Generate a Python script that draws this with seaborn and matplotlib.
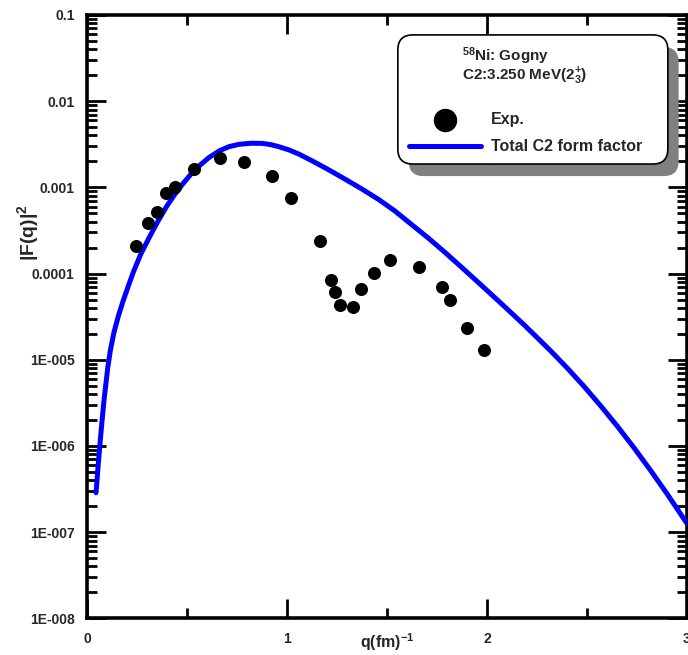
import numpy as np
import pandas as pd
import seaborn as sns
import matplotlib as mpl
import matplotlib.pyplot as plt
import matplotlib.ticker as ticker
from matplotlib.patches import FancyBboxPatch

# experimental |F(q)|^2
q_exp = [0.247, 0.305, 0.352, 0.393, 0.438, 0.534, 0.667, 0.783, 0.927, 1.018,
         1.164, 1.220, 1.242, 1.265, 1.332, 1.372, 1.433, 1.517, 1.662, 1.773,
         1.817, 1.902, 1.987]
f2_exp = [2.09e-4, 3.84e-4, 5.23e-4, 8.61e-4, 1.00e-3, 1.63e-3, 2.19e-3, 1.95e-3, 1.37e-3, 7.48e-4,
          2.37e-4, 8.37e-5, 6.19e-5, 4.28e-5, 4.06e-5, 6.58e-5, 1.01e-4, 1.44e-4, 1.20e-4, 7.0e-5,
          4.9e-5, 2.35e-5, 1.29e-5]

# total C2 form factor (Gogny)
q_th = [0.045, 0.055, 0.065, 0.075, 0.085, 0.104, 0.117, 0.134, 0.157, 0.182,
        0.207, 0.230, 0.269, 0.313, 0.355, 0.397, 0.440, 0.479, 0.520, 0.562,
        0.610, 0.662, 0.710, 0.760, 0.820, 0.876, 0.920, 0.960, 1.010, 1.060,
        1.124, 1.200, 1.292, 1.375, 1.458, 1.540, 1.622, 1.705, 1.790, 1.870,
        1.955, 2.070, 2.188, 2.318, 2.400, 2.486, 2.570, 2.652, 2.735, 2.816,
        2.900, 2.984, 3.000]
f2_th = [2.87e-7, 5.70e-7, 1.08e-6, 1.95e-6, 3.42e-6, 8.24e-6, 1.30e-5, 2.05e-5, 3.24e-5, 4.94e-5,
         7.24e-5, 1.02e-4, 1.69e-4, 2.68e-4, 4.07e-4, 5.97e-4, 8.39e-4, 1.10e-3, 1.43e-3, 1.79e-3,
         2.22e-3, 2.66e-3, 2.97e-3, 3.16e-3, 3.25e-3, 3.24e-3, 3.13e-3, 2.96e-3, 2.72e-3, 2.43e-3,
         2.04e-3, 1.64e-3, 1.24e-3, 9.55e-4, 7.24e-4, 5.31e-4, 3.72e-4, 2.60e-4, 1.76e-4, 1.20e-4,
         7.94e-5, 4.52e-5, 2.51e-5, 1.27e-5, 8.07e-6, 4.88e-6, 2.89e-6, 1.69e-6, 9.51e-7, 5.28e-7,
         2.79e-7, 1.43e-7, 1.26e-7]

y_ticks = [1e-8, 1e-7, 1e-6, 1e-5, 1e-4, 1e-3, 1e-2, 1e-1]
y_labels = ['1E-008', '1E-007', '1E-006', '1E-005', '0.0001', '0.001', '0.01', '0.1']
x_ticks = [0, 1, 2, 3]
x_labels = ['0', '1', '2', '3']

sns.set_theme(context='notebook', style='ticks')
plt.rcParams['font.family'] = ['Liberation Sans', 'DejaVu Sans']
plt.rcParams['font.weight'] = 'bold'
plt.rcParams['mathtext.fontset'] = 'custom'
plt.rcParams['mathtext.rm'] = 'Liberation Sans:bold'
plt.rcParams['mathtext.it'] = 'Liberation Sans:bold'
plt.rcParams['mathtext.bf'] = 'Liberation Sans:bold'
plt.rcParams['mathtext.default'] = 'rm'

df_exp = pd.DataFrame({'q': q_exp, 'f2': f2_exp})
df_th = pd.DataFrame({'q': q_th, 'f2': f2_th})

fig = plt.figure(figsize=(6.88, 6.55), dpi=100)
ax = fig.add_axes([0.1265, 0.0559, 0.8721, 0.9212])

sns.lineplot(data=df_th, x='q', y='f2', ax=ax, color='#0000ff', lw=3.6,
             sort=False, label='Total C2 form factor', zorder=3)
sns.scatterplot(data=df_exp, x='q', y='f2', ax=ax, color='black', edgecolor='black',
                s=88, linewidth=0, label='Exp.', zorder=4)

ax.set_yscale('log')
ax.set_xlim(0, 3)
ax.set_ylim(1e-8, 0.1)

ax.yaxis.set_major_locator(ticker.FixedLocator(y_ticks))
ax.yaxis.set_major_formatter(ticker.FixedFormatter(y_labels))
ax.yaxis.set_minor_locator(ticker.LogLocator(base=10, subs=np.arange(2, 10), numticks=20))
ax.yaxis.set_minor_formatter(ticker.NullFormatter())
ax.xaxis.set_major_locator(ticker.FixedLocator(x_ticks))
ax.xaxis.set_major_formatter(ticker.FixedFormatter(x_labels))
ax.xaxis.set_minor_locator(ticker.MultipleLocator(0.5))

ax.tick_params(which='both', direction='in', top=True, right=True, width=2, color='black')
ax.tick_params(which='major', length=14)
ax.tick_params(which='minor', length=7)
ax.tick_params(axis='y', which='major', labelsize=10, pad=9)
ax.tick_params(axis='x', which='major', labelsize=10, pad=10)
for lab in ax.get_xticklabels() + ax.get_yticklabels():
  lab.set_fontweight('bold')

for sp in ax.spines.values():
  sp.set_linewidth(2.6)
  sp.set_color('black')

ax.set_xlabel('q(fm)$^{-1}$', fontsize=11.5, fontweight='bold')
ax.xaxis.set_label_coords(0.5, -0.040)
ax.xaxis.label.set_va('center')
ax.set_ylabel('|F(q)|$^{2}$', fontsize=14, fontweight='bold')
ax.yaxis.set_label_coords(-0.098, 0.64)
ax.yaxis.label.set_va('center')

# legend box with drop shadow
shadow = FancyBboxPatch((0.536, 0.733), 0.45, 0.214, boxstyle='round,pad=0,rounding_size=0.025',
                        transform=ax.transAxes, fc='#808080', ec='none', zorder=5, clip_on=False)
box = FancyBboxPatch((0.518, 0.753), 0.45, 0.214, boxstyle='round,pad=0,rounding_size=0.025',
                     transform=ax.transAxes, fc='white', ec='black', lw=1.2, zorder=6, clip_on=False)
ax.add_patch(shadow)
ax.add_patch(box)

ax.text(0.625, 0.931, '$^{58}$Ni: Gogny', transform=ax.transAxes, ha='left', va='center',
        fontsize=11, fontweight='bold', zorder=7)
ax.text(0.625, 0.898, 'C2:3.250 MeV(2$^{+}_{3}$)', transform=ax.transAxes, ha='left', va='center',
        fontsize=11, fontweight='bold', zorder=7)

handles, labels = ax.get_legend_handles_labels()
order = [labels.index('Exp.'), labels.index('Total C2 form factor')]
leg = ax.legend([handles[i] for i in order], [labels[i] for i in order],
                loc='upper left', bbox_to_anchor=(0.5367, 0.839), frameon=False,
                borderpad=0, borderaxespad=0, handlelength=4.5, handletextpad=0.63,
                labelspacing=0.75, markerscale=1.8, prop={'weight': 'bold', 'size': 11.5})
leg.set_zorder(8)

fig.savefig('out.png', dpi=100)
